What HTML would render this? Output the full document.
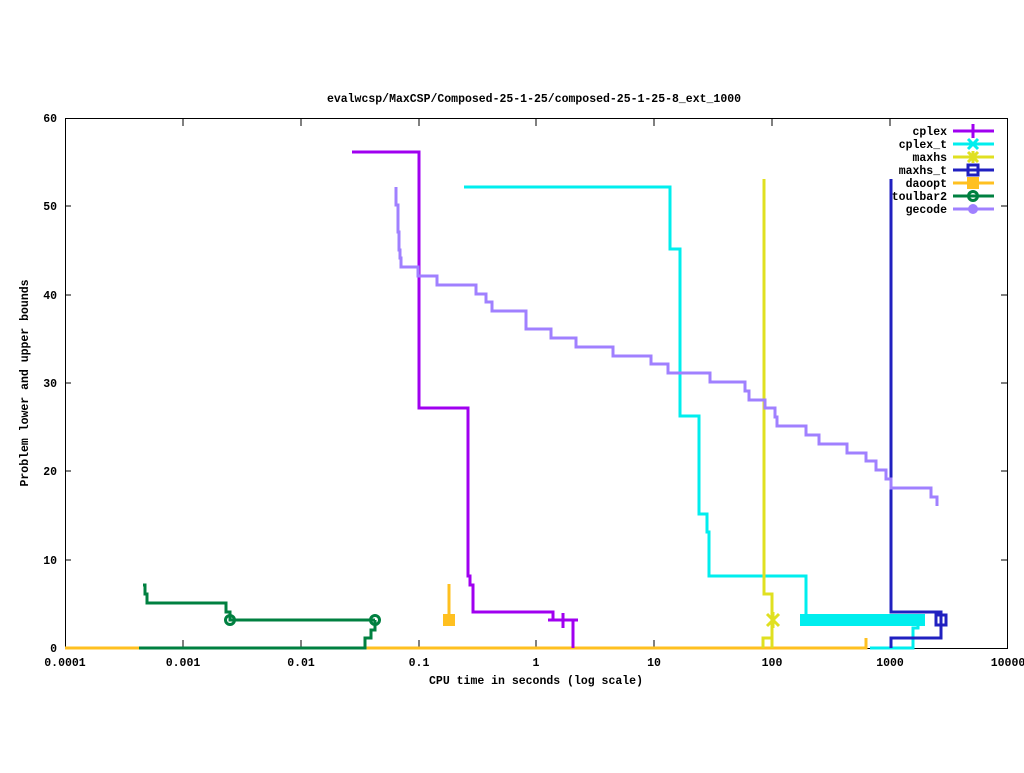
<!DOCTYPE html>
<html><head><style>body{margin:0;background:#fff}svg text{font-family:"Liberation Mono",monospace;font-size:11.5px;font-weight:bold}</style></head><body>
<svg width="1024" height="768" xmlns="http://www.w3.org/2000/svg">
<rect width="1024" height="768" fill="#fff"/>
<g stroke="#000" stroke-width="1" fill="none">
<rect x="65.5" y="118.5" width="942" height="530"/>
<path d="M65 560h6M65 471h6M65 383h6M65 295h6M65 206h6M1007 560h-6M1007 471h-6M1007 383h-6M1007 295h-6M1007 206h-6"/>
<path d="M183 648v-8M301 648v-8M419 648v-8M536 648v-8M654 648v-8M772 648v-8M890 648v-8M183 118v8M301 118v8M419 118v8M536 118v8M654 118v8M772 118v8M890 118v8"/>
</g>
<g text-anchor="end"><text x="57" y="652">0</text><text x="57" y="564">10</text><text x="57" y="475">20</text><text x="57" y="387">30</text><text x="57" y="299">40</text><text x="57" y="210">50</text><text x="57" y="122">60</text></g>
<g text-anchor="middle"><text x="65" y="666">0.0001</text><text x="183" y="666">0.001</text><text x="301" y="666">0.01</text><text x="419" y="666">0.1</text><text x="536" y="666">1</text><text x="654" y="666">10</text><text x="772" y="666">100</text><text x="890" y="666">1000</text><text x="1008" y="666">10000</text>
<text x="536" y="684">CPU time in seconds (log scale)</text>
<text x="534" y="102">evalwcsp/MaxCSP/Composed-25-1-25/composed-25-1-25-8_ext_1000</text>
<text transform="translate(28 383) rotate(-90)">Problem lower and upper bounds</text></g>
<g fill="none" stroke-width="3">
<path stroke="#ffc020" d="M65 648H866V638M449 584V620"/>
<rect x="443" y="614" width="12" height="12" fill="#ffc020"/>
<path stroke="#00eeee" d="M464 187H670V249H680V416H699V514H707V532H709V576H806V620H925M870 648H913V628H918V620"/>
<rect x="800" y="614" width="125" height="12" fill="#00eeee"/>
<path stroke="#a000f0" d="M352 152H419V408H468V576H470V585H473V612H553V620M573 648V620M563 613v15M548 620h30"/>
<path stroke="#e0e020" d="M764 179V594H772V648M763 648V638H772V620M767 614l12 12M767 626l12-12M773 612v16"/>
<path stroke="#2020c0" d="M891 179V612H941V638H891V648"/>
<rect x="936" y="615" width="10" height="10" stroke="#2020c0"/>
<path stroke="#008040" d="M143 585H145V594H147V603H226V612H230V620H375M139 648H365V638H371V630H375V620"/>
<circle cx="230" cy="620" r="4.5" stroke="#008040"/><circle cx="375" cy="620" r="4.5" stroke="#008040"/>
<path stroke="#a080ff" d="M396 187V205H398V232H399V250H400V258H401V267H418V276H437V285H476V294H486V302H492V311H526V329H551V338H576V347H613V356H651V364H668V373H710V382H745V391H749V400H765V408H775V417H777V426H806V435H819V444H847V453H866V461H876V470H886V479H891V488H931V497H937V506"/>
</g>
<g text-anchor="end"><text x="947" y="135">cplex</text><text x="947" y="148">cplex_t</text><text x="947" y="161">maxhs</text><text x="947" y="174">maxhs_t</text><text x="947" y="187">daoopt</text><text x="947" y="200">toulbar2</text><text x="947" y="213">gecode</text></g>
<g fill="none" stroke-width="3">
<path stroke="#a000f0" d="M953 131h41M973 124v14"/>
<path stroke="#00eeee" d="M953 144h41M968 139l10 10M968 149l10-10"/>
<path stroke="#e0e020" d="M953 157h41M968 152l10 10M968 162l10-10M973 151v12"/>
<path stroke="#2020c0" d="M953 170h41"/><rect x="968" y="165" width="10" height="10" stroke="#2020c0"/>
<path stroke="#ffc020" d="M953 183h41"/><rect x="967" y="177" width="12" height="12" fill="#ffc020" stroke="none"/>
<path stroke="#008040" d="M953 196h41"/><circle cx="973" cy="196" r="4.5" stroke="#008040"/>
<path stroke="#a080ff" d="M953 209h41"/><circle cx="973" cy="209" r="5" fill="#a080ff" stroke="none"/>
</g>
</svg>
</body></html>
